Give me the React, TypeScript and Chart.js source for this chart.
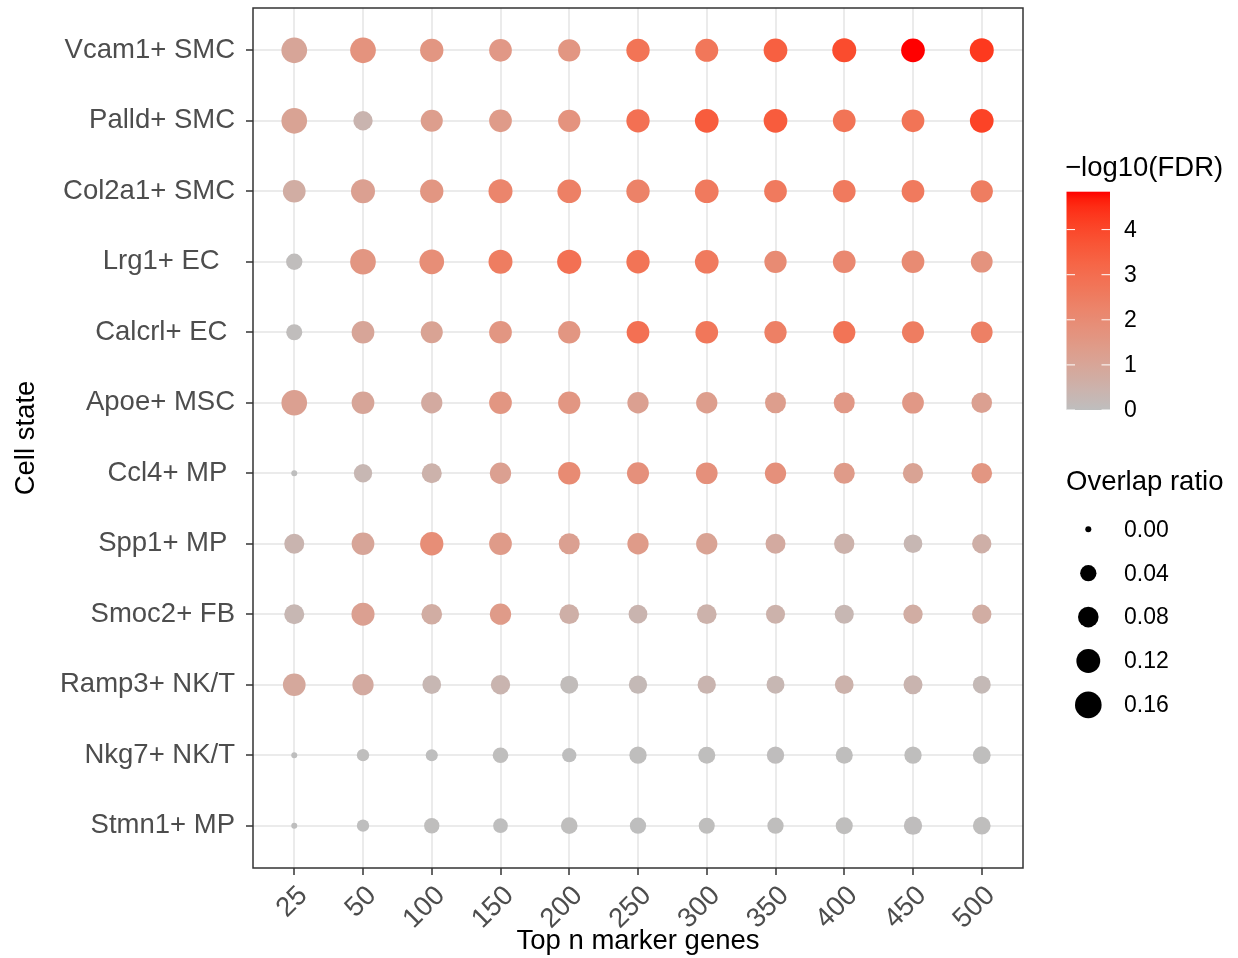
import React, { useEffect, useRef } from "react";
import { Chart, registerables } from "chart.js";

Chart.register(...registerables);

// ---------------- data ----------------
const topN = ["25", "50", "100", "150", "200", "250", "300", "350", "400", "450", "500"];
const cellStates = [
  "Vcam1+ SMC",
  "Palld+ SMC",
  "Col2a1+ SMC",
  "Lrg1+ EC  ",
  "Calcrl+ EC ",
  "Apoe+ MSC",
  "Ccl4+ MP ",
  "Spp1+ MP ",
  "Smoc2+ FB",
  "Ramp3+ NK/T",
  "Nkg7+ NK/T",
  "Stmn1+ MP",
];

// overlap ratio per cell state (columns follow topN)
const ratioVcam1 = [0.146, 0.146, 0.113, 0.105, 0.1, 0.113, 0.109, 0.118, 0.122, 0.118, 0.122];
const ratioPalld = [0.146, 0.067, 0.097, 0.105, 0.1, 0.113, 0.118, 0.118, 0.105, 0.105, 0.118];
const ratioCol2a1 = [0.105, 0.122, 0.113, 0.122, 0.118, 0.113, 0.118, 0.105, 0.105, 0.105, 0.1];
const ratioLrg1 = [0.04, 0.146, 0.132, 0.122, 0.126, 0.113, 0.118, 0.1, 0.105, 0.105, 0.093];
const ratioCalcrl = [0.038, 0.105, 0.097, 0.105, 0.1, 0.105, 0.105, 0.1, 0.1, 0.097, 0.093];
const ratioApoe = [0.146, 0.105, 0.088, 0.105, 0.1, 0.088, 0.088, 0.085, 0.085, 0.093, 0.081];
const ratioCcl4 = [0.0, 0.057, 0.074, 0.088, 0.1, 0.097, 0.093, 0.088, 0.085, 0.077, 0.081];
const ratioSpp1 = [0.074, 0.105, 0.113, 0.105, 0.085, 0.088, 0.088, 0.074, 0.077, 0.061, 0.067];
const ratioSmoc2 = [0.074, 0.109, 0.081, 0.088, 0.071, 0.061, 0.071, 0.064, 0.064, 0.067, 0.067];
const ratioRamp3 = [0.105, 0.088, 0.061, 0.067, 0.054, 0.057, 0.057, 0.054, 0.061, 0.064, 0.054];
const ratioNkg7 = [0.0, 0.015, 0.014, 0.035, 0.026, 0.048, 0.046, 0.048, 0.046, 0.048, 0.052];
const ratioStmn1 = [0.0, 0.015, 0.033, 0.029, 0.043, 0.04, 0.038, 0.04, 0.046, 0.057, 0.052];

// -log10(FDR) per cell state
const fdrVcam1 = [1.0, 1.7, 1.6, 1.5, 1.6, 2.8, 2.7, 3.4, 3.9, 4.84, 4.3];
const fdrPalld = [1.1, 0.4, 1.3, 1.4, 1.7, 2.9, 3.5, 3.5, 2.8, 2.8, 4.1];
const fdrCol2a1 = [0.7, 1.2, 1.6, 2.2, 2.4, 2.3, 2.6, 2.6, 2.6, 2.6, 2.5];
const fdrLrg1 = [0.05, 1.6, 1.9, 2.5, 2.9, 2.8, 2.6, 2.0, 2.1, 2.0, 1.7];
const fdrCalcrl = [0.05, 1.0, 1.1, 1.6, 1.6, 2.9, 2.7, 2.4, 2.8, 2.5, 2.4];
const fdrApoe = [1.2, 1.0, 0.8, 1.6, 1.6, 1.2, 1.3, 1.3, 1.5, 1.5, 1.2];
const fdrCcl4 = [0.0, 0.3, 0.5, 1.2, 2.0, 1.8, 1.8, 1.8, 1.4, 1.1, 1.6];
const fdrSpp1 = [0.4, 1.0, 1.9, 1.4, 1.2, 1.4, 1.1, 0.8, 0.5, 0.3, 0.6];
const fdrSmoc2 = [0.3, 1.2, 0.7, 1.4, 0.6, 0.4, 0.5, 0.5, 0.3, 0.7, 0.7];
const fdrRamp3 = [0.9, 0.8, 0.3, 0.4, 0.1, 0.2, 0.4, 0.3, 0.5, 0.4, 0.2];
const fdrNkg7 = [0.0, 0.02, 0.01, 0.02, 0.01, 0.02, 0.02, 0.03, 0.02, 0.02, 0.02];
const fdrStmn1 = [0.0, 0.01, 0.02, 0.01, 0.02, 0.01, 0.02, 0.02, 0.02, 0.03, 0.02];

const overlapRatio = [
  ratioVcam1, ratioPalld, ratioCol2a1, ratioLrg1, ratioCalcrl, ratioApoe,
  ratioCcl4, ratioSpp1, ratioSmoc2, ratioRamp3, ratioNkg7, ratioStmn1,
];
const log10FDR = [
  fdrVcam1, fdrPalld, fdrCol2a1, fdrLrg1, fdrCalcrl, fdrApoe,
  fdrCcl4, fdrSpp1, fdrSmoc2, fdrRamp3, fdrNkg7, fdrStmn1,
];

const fdrLimits = [0, 4.84];
const fdrBreaks = [0, 1, 2, 3, 4];
const sizeBreaks = [0, 0.04, 0.08, 0.12, 0.16];
const sizeBreakLabels = ["0.00", "0.04", "0.08", "0.12", "0.16"];

// ---------------- scales ----------------
const FONT = "'Liberation Sans', Arial, Helvetica, sans-serif";
const LOW = [190, 190, 190];
const HIGH = [255, 0, 0];

function toLin(c: number) {
  c /= 255;
  return c <= 0.04045 ? c / 12.92 : Math.pow((c + 0.055) / 1.055, 2.4);
}
function fromLin(c: number) {
  const v = c <= 0.0031308 ? 12.92 * c : 1.055 * Math.pow(c, 1 / 2.4) - 0.055;
  return Math.round(Math.max(0, Math.min(1, v)) * 255);
}
function rgbToLab(rgb: number[]) {
  const R = toLin(rgb[0]), G = toLin(rgb[1]), B = toLin(rgb[2]);
  const X = (0.4124 * R + 0.3576 * G + 0.1805 * B) / 0.95047;
  const Y = 0.2126 * R + 0.7152 * G + 0.0722 * B;
  const Z = (0.0193 * R + 0.1192 * G + 0.9505 * B) / 1.08883;
  const f = (t: number) => (t > 0.008856 ? Math.cbrt(t) : 7.787 * t + 16 / 116);
  const fx = f(X), fy = f(Y), fz = f(Z);
  return [116 * fy - 16, 500 * (fx - fy), 200 * (fy - fz)];
}
function labToRgb(lab: number[]) {
  const fy = (lab[0] + 16) / 116;
  const fx = fy + lab[1] / 500;
  const fz = fy - lab[2] / 200;
  const inv = (t: number) => (t > 0.206893 ? t * t * t : (t - 16 / 116) / 7.787);
  const X = 0.95047 * inv(fx), Y = inv(fy), Z = 1.08883 * inv(fz);
  const R = 3.2406 * X - 1.5372 * Y - 0.4986 * Z;
  const G = -0.9689 * X + 1.8758 * Y + 0.0415 * Z;
  const B = 0.0557 * X - 0.204 * Y + 1.057 * Z;
  return [fromLin(R), fromLin(G), fromLin(B)];
}
const LAB_LOW = rgbToLab(LOW);
const LAB_HIGH = rgbToLab(HIGH);
function colourAt(t: number) {
  const u = Math.max(0, Math.min(1, t));
  const lab = [0, 1, 2].map((k) => LAB_LOW[k] + (LAB_HIGH[k] - LAB_LOW[k]) * u);
  const c = labToRgb(lab);
  return `rgb(${c[0]},${c[1]},${c[2]})`;
}
function colourOf(v: number) {
  return colourAt((v - fdrLimits[0]) / (fdrLimits[1] - fdrLimits[0]));
}
function radiusOf(v: number) {
  return 3 + 25.75 * Math.sqrt(Math.max(0, v));
}

// ---------------- legends / panel border ----------------
const decorPlugin = {
  id: "decor",
  afterDraw(chart: any) {
    const { ctx, chartArea } = chart;
    ctx.save();
    // panel border
    ctx.strokeStyle = "#333333";
    ctx.lineWidth = 1.5;
    ctx.strokeRect(
      chartArea.left,
      chartArea.top,
      chartArea.right - chartArea.left,
      chartArea.bottom - chartArea.top
    );

    // colour bar legend
    const barL = 1066.5, barR = 1110, barT = 191.7, barB = 410;
    ctx.fillStyle = "#000";
    ctx.font = `27.5px ${FONT}`;
    ctx.textAlign = "left";
    ctx.textBaseline = "alphabetic";
    ctx.fillText("\u2212log10(FDR)", 1065, 176);
    const grad = ctx.createLinearGradient(0, barB, 0, barT);
    for (let i = 0; i <= 30; i++) grad.addColorStop(i / 30, colourAt(i / 30));
    ctx.fillStyle = grad;
    ctx.fillRect(barL, barT, barR - barL, barB - barT);
    ctx.strokeStyle = "#ffffff";
    ctx.lineWidth = 1;
    ctx.font = `23px ${FONT}`;
    ctx.textBaseline = "middle";
    ctx.fillStyle = "#000";
    fdrBreaks.forEach((b) => {
      const y = barB - ((b - fdrLimits[0]) / (fdrLimits[1] - fdrLimits[0])) * (barB - barT);
      ctx.beginPath();
      ctx.moveTo(barL, y);
      ctx.lineTo(barL + 8.5, y);
      ctx.moveTo(barR - 8.5, y);
      ctx.lineTo(barR, y);
      ctx.stroke();
      ctx.fillText(String(b), 1124, y + 1);
    });

    // size legend
    ctx.font = `27.5px ${FONT}`;
    ctx.textBaseline = "alphabetic";
    ctx.fillText("Overlap ratio", 1066, 490);
    ctx.font = `23px ${FONT}`;
    ctx.textBaseline = "middle";
    sizeBreaks.forEach((b, i) => {
      const y = 529.3 + i * 43.9;
      ctx.beginPath();
      ctx.arc(1088.3, y, radiusOf(b), 0, Math.PI * 2);
      ctx.fillStyle = "#000";
      ctx.fill();
      ctx.fillText(sizeBreakLabels[i], 1124, y + 1);
    });
    ctx.restore();
  },
};

export default function App() {
  const ref = useRef<HTMLCanvasElement | null>(null);

  useEffect(() => {
    if (!ref.current) return;
    const points: { x: number; y: number }[] = [];
    const radii: number[] = [];
    const colours: string[] = [];
    cellStates.forEach((_, j) => {
      topN.forEach((_, i) => {
        points.push({ x: i, y: j });
        radii.push(radiusOf(overlapRatio[j][i]));
        colours.push(colourOf(log10FDR[j][i]));
      });
    });

    const tickFont = { family: FONT, size: 27.5 };
    const chart = new Chart(ref.current, {
      type: "scatter",
      data: {
        datasets: [
          {
            data: points,
            pointRadius: radii,
            pointHoverRadius: radii,
            pointBackgroundColor: colours,
            pointHoverBackgroundColor: colours,
            pointBorderWidth: 0,
            pointHoverBorderWidth: 0,
            borderWidth: 0,
          },
        ],
      },
      options: {
        animation: false,
        responsive: false,
        devicePixelRatio: 1,
        events: [],
        layout: { autoPadding: false, padding: { left: 0, top: 8, right: 215, bottom: 0 } },
        plugins: { legend: { display: false }, tooltip: { enabled: false } },
        scales: {
          x: {
            type: "linear",
            position: "bottom",
            min: -0.6,
            max: 10.6,
            afterBuildTicks: (scale: any) => {
              scale.ticks = topN.map((_, i) => ({ value: i }));
            },
            afterFit: (scale: any) => {
              scale.height = 90;
              scale.paddingLeft = 0;
              scale.paddingRight = 0;
            },
            grid: {
              color: "#EBEBEB",
              lineWidth: 2,
              drawTicks: true,
              tickLength: 7,
              tickColor: "#333333",
              tickWidth: 1.5,
            },
            border: { display: false },
            ticks: {
              autoSkip: false,
              minRotation: 45,
              maxRotation: 45,
              padding: 7.5,
              color: "#4D4D4D",
              font: { ...tickFont, lineHeight: 0.91 },
              showLabelBackdrop: true,
              backdropColor: "rgba(0,0,0,0)",
              callback: (v: any) => topN[Math.round(Number(v))],
            },
            title: {
              display: true,
              text: "Top n marker genes",
              color: "#000000",
              font: { family: FONT, size: 27.5 },
              padding: { top: 0, bottom: 0 },
            },
          },
          y: {
            type: "linear",
            reverse: true,
            min: -0.6,
            max: 11.6,
            afterBuildTicks: (scale: any) => {
              scale.ticks = cellStates.map((_, i) => ({ value: i }));
            },
            afterFit: (scale: any) => {
              scale.width = 253;
              scale.paddingTop = 0;
              scale.paddingBottom = 0;
            },
            grid: {
              color: "#EBEBEB",
              lineWidth: 2,
              drawTicks: true,
              tickLength: 7,
              tickColor: "#333333",
              tickWidth: 1.5,
            },
            border: { display: false },
            ticks: {
              autoSkip: false,
              padding: 11,
              color: "#4D4D4D",
              font: tickFont,
              callback: (v: any) => cellStates[Math.round(Number(v))],
            },
            title: {
              display: true,
              text: "Cell state",
              color: "#000000",
              font: { family: FONT, size: 27.5 },
              padding: { top: 10, bottom: 0 },
            },
          },
        },
      },
      plugins: [decorPlugin],
    } as any);
    return () => chart.destroy();
  }, []);

  return (
    <div style={{ position: "fixed", left: 0, top: 0, width: 1238, height: 958, background: "#fff" }}>
      <canvas ref={ref} width={1238} height={958} style={{ width: 1238, height: 958, display: "block" }} />
    </div>
  );
}
